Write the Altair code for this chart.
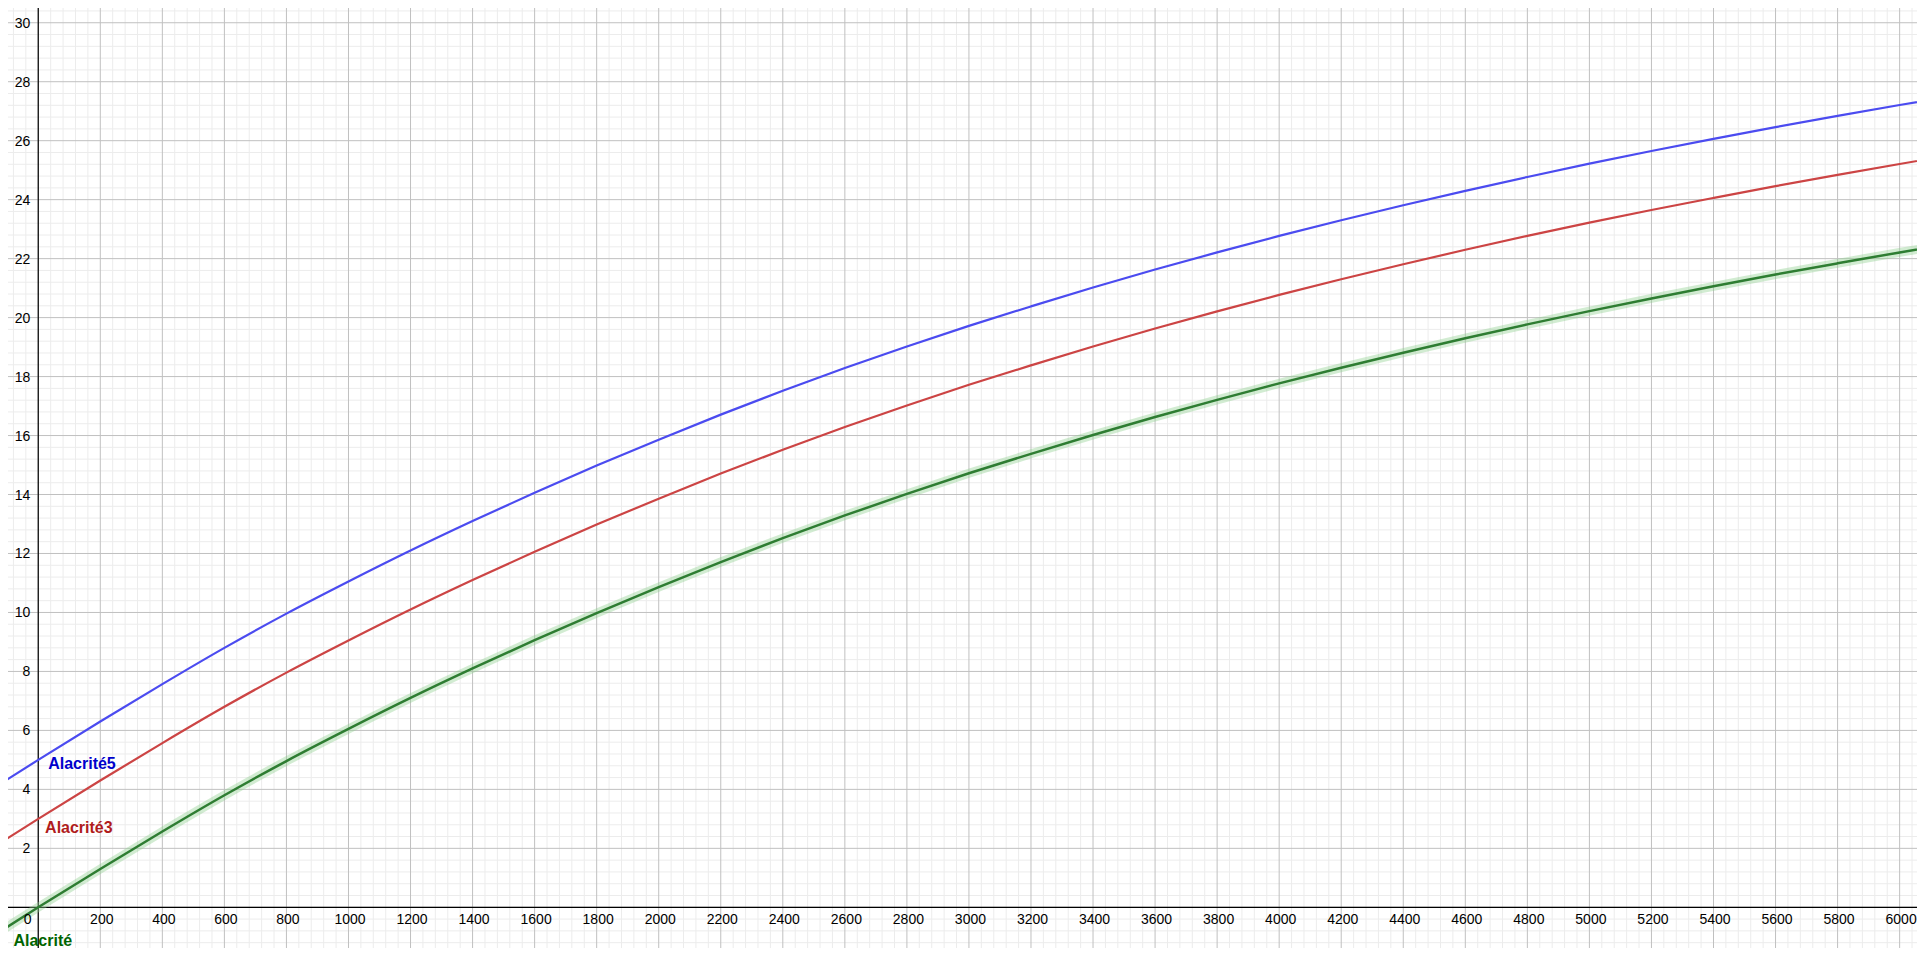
import altair as alt
import pandas as pd

x_vals = [-200, 0, 200, 400, 600, 800, 1000, 1200, 1400, 1600, 1800, 2000,
          2200, 2400, 2600, 2800, 3000, 3200, 3400, 3600, 3800, 4000,
          4200, 4400, 4600, 4800, 5000, 5200, 5400, 5600, 5800, 6000, 6200]
alacrite = [-1.33, 0.00, 1.30, 2.57, 3.80, 4.96, 6.05, 7.10, 8.10, 9.06, 9.98, 10.86,
            11.71, 12.52, 13.29, 14.02, 14.72, 15.38, 16.02, 16.63, 17.21, 17.77,
            18.30, 18.81, 19.30, 19.77, 20.22, 20.65, 21.06, 21.46, 21.84, 22.21, 22.57]
alacrite3 = [1.67, 3.00, 4.30, 5.57, 6.80, 7.96, 9.05, 10.10, 11.10, 12.06, 12.98, 13.86,
             14.71, 15.52, 16.29, 17.02, 17.72, 18.38, 19.02, 19.63, 20.21, 20.77,
             21.30, 21.81, 22.30, 22.77, 23.22, 23.65, 24.06, 24.46, 24.84, 25.21, 25.57]
alacrite5 = [3.67, 5.00, 6.30, 7.57, 8.80, 9.96, 11.05, 12.10, 13.10, 14.06, 14.98, 15.86,
             16.71, 17.52, 18.29, 19.02, 19.72, 20.38, 21.02, 21.63, 22.21, 22.77,
             23.30, 23.81, 24.30, 24.77, 25.22, 25.65, 26.06, 26.46, 26.84, 27.21, 27.57]

# curve names and where their labels sit
label_text = ["Alacrité5", "Alacrité3", "Alacrité"]
label_x = [32, 22, -80]
label_y = [4.68, 2.53, -1.31]

# tick labels
x_ticks = list(range(200, 6001, 200))
y_ticks = list(range(2, 31, 2))

# grid positions: minor every 40 / 0.4, major every 200 / 2
minor_x = [v for v in range(-80, 6041, 40) if v % 200 != 0]
major_x = list(range(0, 6001, 200))
minor_y = [round(i * 0.4, 1) for i in range(-3, 77) if i % 5 != 0]
major_y = list(range(0, 31, 2))

x_scale = alt.Scale(domain=[-97.5, 6056], nice=False, zero=False)
y_scale = alt.Scale(domain=[-1.38, 30.5], nice=False, zero=False)

font = "Liberation Sans"


def X(field):
    return alt.X(field, scale=x_scale, axis=None)


def Y(field):
    return alt.Y(field, scale=y_scale, axis=None)


curves = pd.DataFrame({
    "x": x_vals * 3,
    "y": alacrite + alacrite3 + alacrite5,
    "name": ["Alacrité"] * len(x_vals) + ["Alacrité3"] * len(x_vals) + ["Alacrité5"] * len(x_vals),
})
green = curves[curves["name"] == "Alacrité"]
others = curves[curves["name"] != "Alacrité"]

# background grid
grid_minor_v = alt.Chart(pd.DataFrame({"v": minor_x})).mark_rule(color="#ececec", strokeWidth=1).encode(x=X("v:Q"))
grid_minor_h = alt.Chart(pd.DataFrame({"v": minor_y})).mark_rule(color="#ececec", strokeWidth=1).encode(y=Y("v:Q"))
grid_major_v = alt.Chart(pd.DataFrame({"v": major_x})).mark_rule(color="#c0c0c0", strokeWidth=1).encode(x=X("v:Q"))
grid_major_h = alt.Chart(pd.DataFrame({"v": major_y})).mark_rule(color="#c0c0c0", strokeWidth=1).encode(y=Y("v:Q"))

# green curve is drawn with its selection halo
halo = alt.Chart(green).mark_line(
    color="#8fd08f", strokeWidth=9, opacity=0.4, clip=True, interpolate="monotone"
).encode(x=X("x:Q"), y=Y("y:Q"))

green_line = alt.Chart(green).mark_line(
    color="#2e7d32", strokeWidth=2.5, clip=True, interpolate="monotone"
).encode(x=X("x:Q"), y=Y("y:Q"))

other_lines = alt.Chart(others).mark_line(
    strokeWidth=2.2, clip=True, interpolate="monotone"
).encode(
    x=X("x:Q"),
    y=Y("y:Q"),
    color=alt.Color("name:N", scale=alt.Scale(domain=["Alacrité3", "Alacrité5"],
                                              range=["#cc4444", "#4b4bf0"]), legend=None),
)

# axis lines through the origin
axes_df = pd.DataFrame({"v": [0]})
x_axis_line = alt.Chart(axes_df).mark_rule(color="#000000", strokeWidth=1.2).encode(y=Y("v:Q"))
y_axis_line = alt.Chart(axes_df).mark_rule(color="#000000", strokeWidth=1.2).encode(x=X("v:Q"))

xt = pd.DataFrame({"x": x_ticks, "y": [0] * len(x_ticks), "t": [str(v) for v in x_ticks]})
x_labels = alt.Chart(xt).mark_text(
    font=font, fontSize=14, color="#000000", align="center", baseline="alphabetic", dy=17, dx=1.5
).encode(x=X("x:Q"), y=Y("y:Q"), text="t:N")

zero_label = alt.Chart(axes_df).mark_text(
    font=font, fontSize=14, color="#000000", align="center", baseline="alphabetic", dy=17, dx=-10.5,
    text="0",
).encode(x=X("v:Q"), y=Y("v:Q"))

yt = pd.DataFrame({"x": [0] * len(y_ticks), "y": y_ticks, "t": [str(v) for v in y_ticks]})
y_labels = alt.Chart(yt).mark_text(
    font=font, fontSize=14, color="#000000", align="right", baseline="middle", dx=-8, dy=1
).encode(x=X("x:Q"), y=Y("y:Q"), text="t:N")

names = pd.DataFrame({"x": label_x, "y": label_y, "t": label_text})
curve_labels = alt.Chart(names).mark_text(
    font=font, fontSize=16, fontWeight="bold", align="left", baseline="alphabetic"
).encode(
    x=X("x:Q"),
    y=Y("y:Q"),
    text="t:N",
    color=alt.Color("t:N", scale=alt.Scale(domain=label_text,
                                           range=["#0000cc", "#b01c1c", "#006400"]), legend=None),
)

chart = alt.layer(
    grid_minor_v, grid_minor_h, grid_major_v, grid_major_h,
    x_axis_line, y_axis_line, halo, other_lines, green_line,
    x_labels, zero_label, y_labels, curve_labels,
).resolve_scale(
    color="independent"
).properties(
    width=1909, height=940, padding=0, autosize="none", background="#ffffff"
).configure_view(
    stroke="transparent"
)

chart.save("out.html", embed_options={"renderer": "svg", "actions": False})
